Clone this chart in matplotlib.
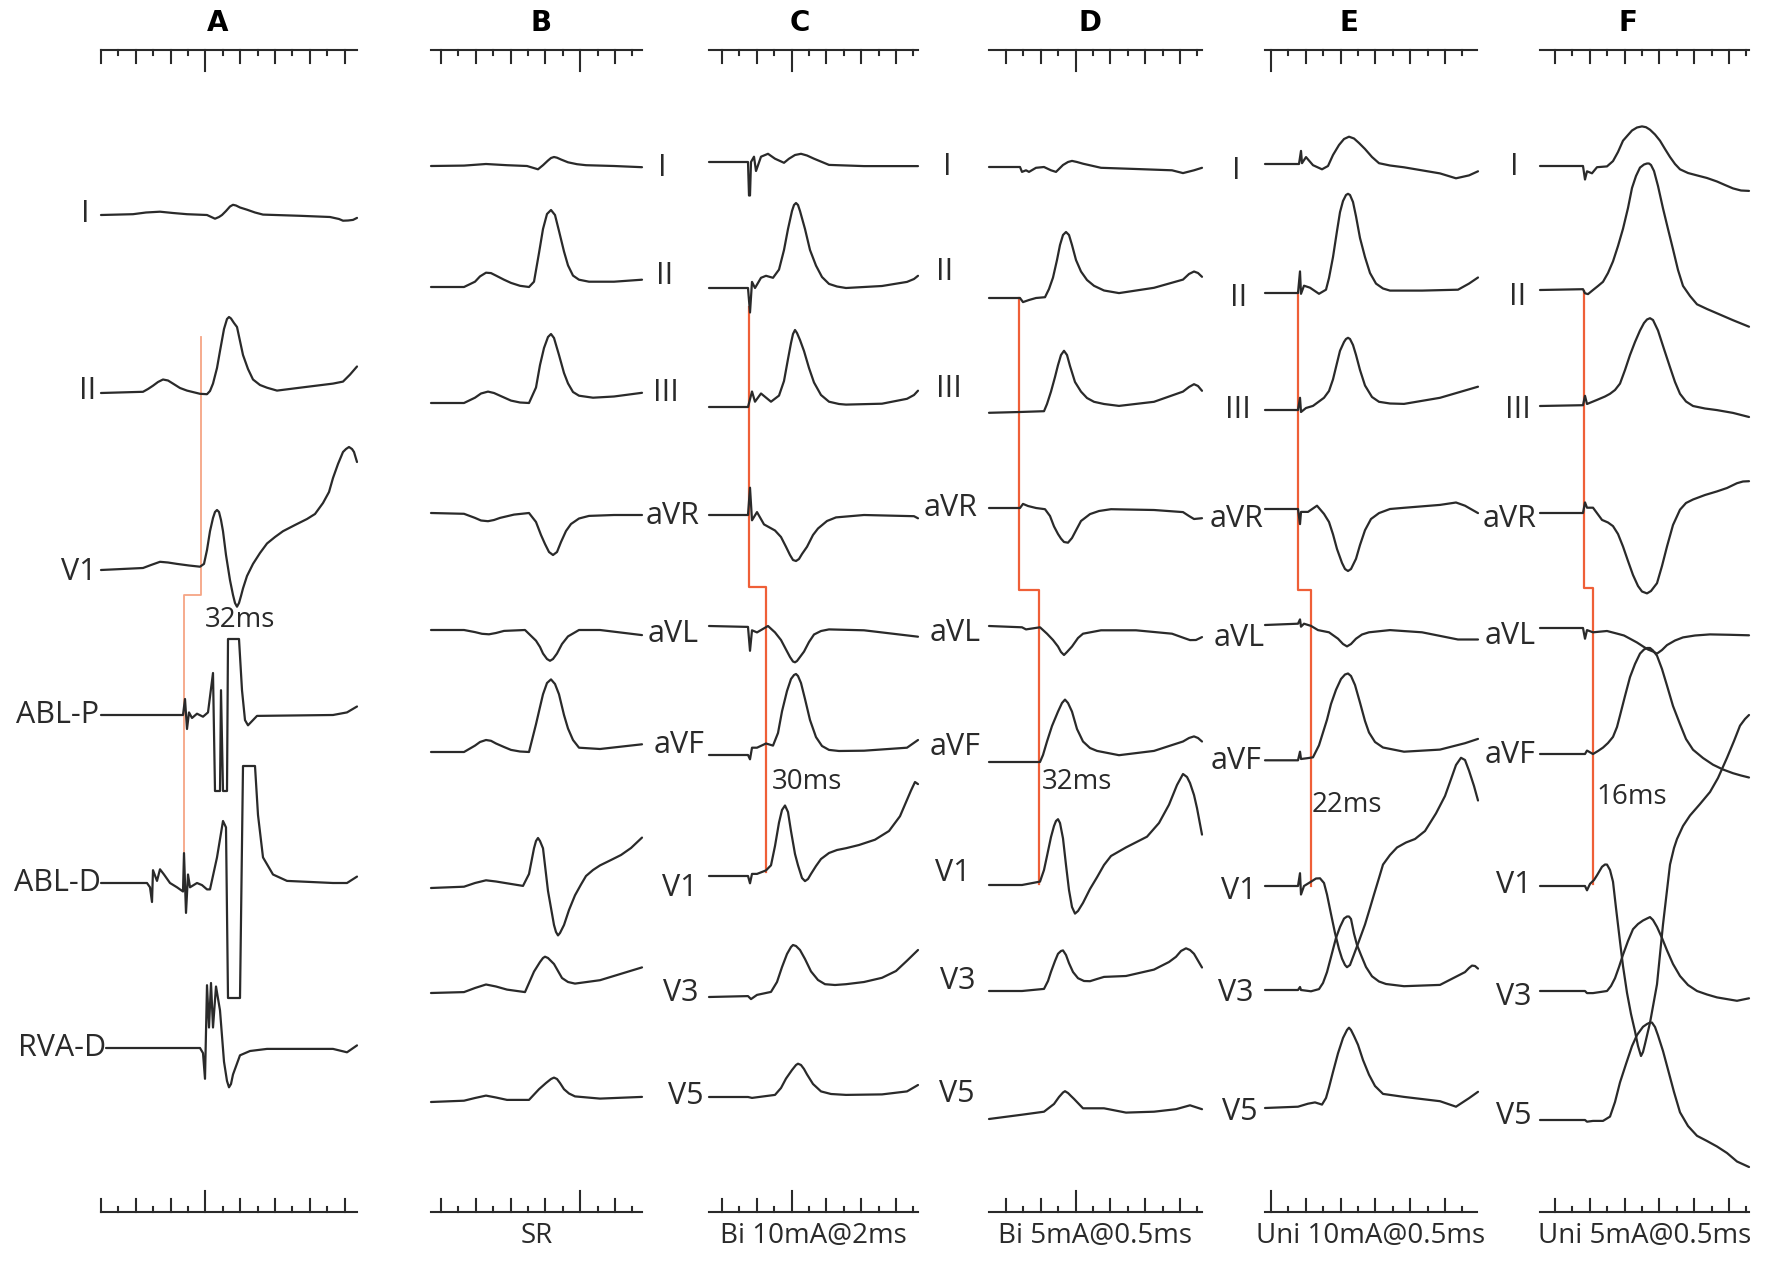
import matplotlib.pyplot as plt

plt.rcParams['font.family'] = ['Open Sans', 'DejaVu Sans']

# ---------------------------------------------------------------------------
# traces: t = time offset from trace start (px at full size), v = amplitude (px, up +)
# ---------------------------------------------------------------------------
A_traces = {
    "I": ([0, 32, 45, 59, 72, 86, 106, 114, 118, 121, 125, 129, 132, 135, 139, 146, 154, 162, 199, 229, 238, 242, 247, 252, 256],
          [0, 0.8, 2.5, 3.3, 2, 0.8, 0, -3.7, -2, 0, 4, 8.5, 10.2, 9.5, 7.5, 5.3, 2.5, 0.4, -0.8, -2, -4, -5.7, -5.5, -4.9, -2.9]),
    "II": ([0, 42, 47, 52, 57, 62, 67, 72, 79, 86, 99, 106, 109, 112, 116, 119, 123, 126, 128, 130, 133, 136, 139, 142, 147, 152, 159, 166, 176, 199, 232, 242, 249, 256],
           [0, 1.2, 4, 7.3, 11, 13.5, 12.5, 9.4, 5, 2.4, -0.8, -1.2, 2, 9.4, 25, 42, 64, 74, 76, 74.5, 70, 66, 52, 38, 24, 13.5, 8, 5.3, 2.4, 5.3, 9.4, 11.4, 18.4, 26.5]),
    "V1": ([0, 42, 50, 59, 67, 76, 88, 99, 103, 106, 109, 112, 114, 116, 118, 120, 122, 125, 129, 132, 134, 136, 138, 140, 142, 146, 152, 159, 166, 174, 182, 194, 206, 214, 222, 228, 232, 237, 242, 245, 248, 251, 253, 256],
           [0, 2, 5, 8.2, 7.5, 6.1, 4.5, 3.3, 6.1, 20, 38.8, 52, 58, 60, 58, 50, 38.8, 15, -10.2, -25, -33, -36.7, -33, -26, -18.4, -6, 6.1, 17, 26.5, 33, 38.8, 45, 51, 56, 67, 78, 92, 106, 118, 121, 123, 121, 118, 108]),
    "ABL-P": ([0, 82, 84, 86, 88, 91, 96, 102, 107, 112, 114, 119, 120, 122, 126, 127, 138, 141, 144, 147, 156, 232, 246, 256],
              [0, 0, 16, -14, 2.6, -3, 1.3, -1.7, 2.6, 42, -76, -76, 24.8, -76, -76, 76, 76, 24.8, -5.1, -10.3, -0.9, 0, 2.6, 8.5]),
    "ABL-D": ([0, 46, 49, 51, 52, 56, 59, 63, 69, 76, 82, 83, 85, 87, 89, 96, 101, 106, 109, 116, 122, 125, 127, 139, 142, 154, 157, 162, 172, 186, 232, 246, 256],
              [0, 0, -4.3, -19, 12.8, 2.1, 13.7, 8.5, 0, -4.3, -8.5, 29.9, -29.9, 8.5, -4.3, 0, -2.1, -6.4, -6.4, 25.6, 62, 55.6, -115, -115, 117, 117, 68, 25.6, 8.5, 2.1, 0, 0, 6.4]),
    "RVA-D": ([5, 99, 102, 104, 106, 108, 110, 112, 115, 119, 123, 126, 128, 130, 132, 139, 149, 166, 232, 246, 256],
              [0, 0, -5.1, -30.8, 62.8, 20.5, 65, 20.5, 61.5, 37.6, -13.7, -33, -39.3, -36, -26.5, -7.3, -3, -0.9, -0.9, -4.3, 2.6]),
}

B_traces = {
    "I": ([0, 33, 55, 76, 96, 107, 112, 117, 120, 123, 126, 130, 137, 146, 155, 183, 211],
          [0, 0.4, 2, 0.8, 0, -3.3, 0.8, 5.5, 8, 9, 8.3, 6.5, 3.7, 1.8, 0.8, 0, -1.2]),
    "II": ([0, 33, 44, 49, 55, 60, 65, 73, 80, 89, 98, 103, 108, 112, 116, 120, 124, 128, 133, 137, 142, 148, 158, 183, 211],
           [0, 0, 5.3, 10.6, 14.3, 13.9, 11.4, 7.3, 4.1, 1.2, 0, 5.3, 34, 58, 73, 77, 72, 56, 35.5, 21.6, 11.4, 7.3, 5.3, 5.3, 7.3]),
    "III": ([0, 33, 44, 50, 57, 63, 69, 80, 89, 98, 105, 109, 113, 117, 120, 123, 128, 133, 137, 142, 148, 162, 183, 211],
            [0, 0, 5.3, 9.5, 11.4, 10, 7.3, 2.4, 0.5, 0, 15.5, 38, 55, 66, 69, 65, 48, 30, 19.6, 11, 7.3, 5.3, 6.5, 10.2]),
    "aVR": ([0, 33, 44, 50, 57, 63, 69, 83, 98, 105, 110, 114, 118, 122, 126, 130, 135, 140, 148, 158, 183, 211],
            [0, -0.8, -4.9, -7.5, -8.2, -7, -4.9, -1.6, 0, -9, -22, -31, -39, -42, -39, -29, -18, -11, -5.5, -2.9, -2, -2]),
    "aVL": ([0, 33, 44, 51, 58, 65, 73, 94, 105, 109, 112, 116, 119, 122, 126, 131, 137, 148, 169, 211],
            [0, 0, -2.1, -3.8, -4.3, -3, -0.9, 0, -10.7, -17, -23.5, -29, -30.8, -29, -23.5, -14, -6.4, 0, 0, -5.1]),
    "aVF": ([0, 33, 44, 49, 55, 60, 65, 73, 80, 89, 98, 105, 109, 112, 116, 120, 124, 128, 133, 137, 142, 148, 169, 211],
            [0, 0, 6.4, 10, 12, 11.2, 8.5, 5, 2.1, 0.5, 0, 27.8, 45, 57.7, 69, 72.6, 68, 57.7, 37, 23.5, 12, 4.3, 3, 7.7]),
    "V1": ([0, 33, 44, 55, 65, 76, 92, 98, 103, 105, 107, 109, 112, 117, 123, 125, 127, 129, 133, 138, 144, 150, 155, 162, 169, 180, 190, 200, 211],
           [0, 1.3, 5, 7.7, 6.5, 4.7, 2.1, 14, 39.7, 47, 50, 47, 39.7, -3, -37, -44, -47.4, -45, -37, -22, -7.3, 3.5, 12, 18, 22.6, 28, 33, 40, 50.4]),
    "V3": ([0, 33, 44, 55, 65, 76, 94, 103, 109, 112, 114, 117, 120, 123, 131, 137, 144, 169, 211],
           [0, 0.9, 5, 8.5, 6.5, 3.4, 0.9, 21.4, 31, 35, 36.3, 35, 32, 29, 15, 11, 9.4, 12.8, 25.6]),
    "V5": ([0, 33, 44, 55, 65, 76, 98, 108, 115, 120, 123, 126, 129, 133, 138, 144, 169, 211],
           [0, 1.3, 4, 6.4, 4.5, 2.1, 2.1, 12.8, 19, 23, 24.4, 23, 19, 12.8, 8.5, 5.6, 3.4, 5.1]),
}

C_traces = {
    "I": ([0, 39, 40, 41, 42, 45, 47, 52, 59, 66, 75, 80, 86, 92, 98, 105, 120, 155, 209],
          [0, 0, -33.5, -33.5, 0, 5.3, -9, 5.3, 8.2, 3.3, -0.8, 3.3, 7, 8.2, 6.5, 3.3, -2.9, -4.1, -4.1]),
    "II": ([0, 39, 41, 43, 46, 52, 57, 64, 70, 75, 79, 83, 85, 87, 89, 91, 96, 101, 107, 113, 120, 128, 137, 173, 198, 205, 209],
           [0, 0, -24.5, 6.1, 0, 10.2, 12.2, 10.2, 18.4, 38, 59, 77, 83, 85, 83, 77, 59, 38, 22.4, 11, 4.1, 1.5, 0, 2, 6.1, 9, 12.2]),
    "III": ([0, 39, 43, 46, 52, 62, 70, 75, 79, 82, 84, 86, 88, 91, 95, 100, 105, 112, 120, 130, 137, 173, 198, 205, 209],
            [0, 0, 15.5, 5.3, 13.5, 5.3, 11.4, 26, 48, 64, 73, 77, 74, 67, 56, 39, 24.5, 12, 5.3, 3, 2.4, 3.3, 8.2, 12, 16.3]),
    "aVR": ([0, 39, 41, 43, 48, 55, 66, 72, 77, 81, 84, 87, 90, 93, 98, 104, 109, 118, 127, 155, 205, 209],
            [0, 0, 27.3, -5.3, 2.9, -9.4, -15.5, -22, -31.8, -40, -45, -46, -44, -39, -31.8, -20, -13.5, -6, -2.4, 0, -1.2, -3.3]),
    "aVL": ([0, 39, 41, 43, 48, 59, 66, 72, 77, 81, 84, 86, 88, 91, 95, 100, 105, 112, 120, 155, 209],
            [0, -0.9, -24.8, -4.3, -6.4, 0, -6.4, -14, -23.5, -31, -35.5, -36.3, -35, -31, -25.6, -16, -8.5, -5, -3.4, -4.3, -10.7]),
    "aVF": ([0, 39, 41, 43, 48, 57, 64, 69, 73, 78, 82, 85, 87, 89, 92, 96, 101, 107, 113, 120, 130, 155, 198, 209],
            [0, 0, -4.3, 7.3, 7.3, 11.5, 9.4, 22, 43.6, 64, 76, 80, 81, 79, 72, 56, 35, 17.9, 9, 5.1, 4, 4.3, 7.3, 15]),
    "V1": ([0, 39, 41, 43, 48, 57, 62, 66, 70, 73, 76, 79, 82, 86, 89, 93, 96, 99, 102, 107, 112, 120, 128, 137, 150, 166, 180, 191, 202, 206, 209],
           [0, 0, -7.3, 2.1, 2.1, 5.6, 10.7, 30, 53.4, 66, 70.5, 64, 44.9, 22, 10.7, -2, -5.1, -3, 2.1, 10, 17, 23, 26, 27.8, 31, 36.3, 45, 59.8, 85.5, 94, 91.9]),
    "V3": ([0, 39, 42, 48, 62, 68, 73, 78, 82, 84, 87, 91, 96, 102, 109, 116, 126, 137, 155, 173, 187, 198, 209],
           [0, 0.9, -2.1, 2.1, 5.1, 15, 29.9, 43, 50, 52, 51, 47, 38, 25.6, 17, 12.8, 12, 12.8, 15, 19.2, 26, 36.3, 47]),
    "V5": ([0, 39, 43, 66, 72, 77, 83, 87, 89, 92, 95, 98, 104, 112, 122, 137, 173, 198, 209],
           [0, 0, -0.9, 2.1, 9, 18.4, 27, 32, 33.3, 32, 28, 22.6, 13, 5.6, 3, 2.1, 2.6, 5.6, 12]),
}

D_traces = {
    "I": ([0, 31, 33, 37, 40, 47, 55, 62, 67, 74, 79, 83, 88, 94, 112, 147, 183, 194, 205, 213],
          [0, 0, -4.9, -3.3, -4.9, -0.8, 0, -3.3, -4.9, 2, 5, 6.1, 5, 3.3, -0.8, -2, -3.3, -6.1, -3.3, -0.8]),
    "II": ([0, 31, 34, 40, 47, 56, 60, 64, 68, 71, 74, 77, 80, 83, 87, 92, 98, 105, 115, 130, 165, 194, 200, 205, 209, 213],
           [0, 0, -4.1, -2, 0, 0.8, 9, 20.4, 38, 53, 63, 66, 63, 53, 38, 26.5, 18, 12.2, 7.5, 4.9, 10.2, 18.4, 24, 26.5, 25, 21.2]),
    "III": ([0, 31, 55, 58, 62, 66, 69, 72, 75, 78, 81, 86, 92, 98, 105, 115, 130, 165, 194, 200, 205, 209, 213],
            [-0.8, 0, 0.8, 8, 20.4, 35, 46.9, 57, 61.2, 57, 46, 30, 20.4, 14, 10.2, 8, 6.1, 10.2, 20.4, 25, 27.8, 26, 21.2]),
    "aVR": ([0, 31, 34, 39, 47, 56, 61, 65, 69, 72, 75, 79, 83, 87, 92, 101, 110, 122, 165, 194, 200, 205, 213],
            [0, 0, 4.1, 2, 0, -1.2, -8, -18.4, -26, -30.6, -34, -34.7, -30, -22.4, -13, -6.1, -3, -1.2, -2, -4.1, -8, -11, -10.2]),
    "aVL": ([0, 33, 37, 51, 58, 64, 69, 72, 75, 78, 83, 89, 94, 112, 147, 183, 195, 201, 207, 213],
            [0, -1.3, -3.4, -1.3, -7.7, -14, -20.5, -26, -29, -26, -20.5, -12, -7.7, -4.3, -4.3, -7.7, -12, -14.1, -14, -11.1]),
    "aVF": ([0, 33, 51, 54, 58, 63, 69, 73, 76, 79, 83, 88, 94, 101, 108, 130, 165, 194, 200, 205, 209, 213],
            [0, 0, 0, 7, 20.5, 36, 50.4, 59, 62.4, 59, 50.4, 33, 20.5, 14, 11.1, 6.8, 11.1, 20.5, 24, 25.6, 24, 20.5]),
    "V1": ([0, 33, 51, 55, 58, 62, 65, 67, 69, 71, 74, 77, 80, 83, 86, 89, 94, 101, 108, 115, 122, 137, 158, 170, 180, 188, 194, 198, 201, 205, 208, 213],
           [0, 0, 3.4, 15, 29, 48, 59, 64, 65.8, 62, 46.6, 20, -5.1, -22, -28.6, -26, -17.9, -4, 7.7, 20, 29, 37.6, 48.3, 62, 80.3, 100, 111, 108, 102, 90, 76.9, 50.4]),
    "V3": ([0, 33, 55, 59, 62, 66, 69, 72, 74, 77, 80, 84, 89, 95, 101, 108, 115, 137, 165, 180, 187, 192, 197, 201, 205, 213],
           [0, 0, 2.1, 10, 19.2, 30, 37.2, 40, 40.6, 36, 27.8, 19, 12.8, 10, 9.8, 12, 14.1, 15, 21.4, 29, 34.2, 40, 42.7, 41, 37.2, 23.5]),
    "V5": ([0, 33, 55, 65, 70, 74, 76, 79, 82, 85, 94, 115, 137, 165, 187, 201, 213],
           [0, 4.3, 7.3, 15, 22, 26.5, 27.8, 26, 23, 20.1, 10.7, 10.7, 6.4, 7.3, 9.8, 13.7, 9.8]),
}

E_traces = {
    "I": ([0, 34, 36, 37, 41, 48, 57, 63, 68, 74, 79, 84, 89, 94, 100, 107, 114, 125, 139, 175, 191, 204, 213],
          [0, 0, 13.1, 0.8, 6.9, -1.2, -5.3, -2, 9, 19, 25, 27.3, 25.5, 21, 15, 7, 0.8, -1.5, -3.3, -9.4, -14.3, -11.4, -7.3]),
    "II": ([0, 33, 35, 36, 39, 45, 54, 61, 64, 68, 72, 75, 78, 81, 83, 85, 88, 91, 95, 100, 105, 111, 118, 125, 157, 193, 204, 213],
           [0, 0, 21.6, -0.8, 7.3, 5.3, -0.8, 3.3, 15, 35.9, 62, 80.8, 92, 98, 99.2, 98, 91, 76.7, 55, 35.9, 20, 9.4, 4.5, 2.4, 2.4, 3.3, 9.4, 15.5]),
    "III": ([0, 33, 35, 36, 41, 48, 59, 64, 68, 72, 75, 79, 81, 83, 85, 88, 91, 95, 100, 107, 114, 125, 139, 175, 213],
            [0, 0, 12.2, -2, 2, 4.1, 12.2, 19, 30.6, 47, 59.2, 68, 71, 72.2, 71, 65, 55.1, 40, 24.5, 13, 8.2, 6.5, 6.1, 12.2, 23.3]),
    "aVR": ([0, 33, 35, 36, 43, 52, 59, 64, 68, 72, 77, 80, 83, 86, 91, 95, 100, 106, 114, 125, 139, 175, 191, 200, 213],
            [0, 0, -15.1, -2.9, -2.9, 3.3, -4.9, -13, -25.3, -40, -53.9, -60, -62, -60, -49.8, -36, -21.2, -10, -4.1, 0, 1.2, 4.1, 6.5, 3.3, -4.1]),
    "aVL": ([0, 33, 35, 36, 39, 46, 53, 64, 73, 78, 82, 86, 91, 97, 104, 125, 157, 193, 213],
            [0, 1.3, 5.6, -1.7, 1.3, -0.9, -5.1, -7.3, -13.7, -19, -21.4, -19, -13.7, -9.5, -7.3, -5.1, -7.3, -14.5, -14.5]),
    "aVF": ([0, 33, 35, 36, 43, 48, 54, 62, 66, 71, 76, 80, 83, 86, 90, 95, 100, 104, 110, 118, 139, 175, 200, 213],
            [-1.3, -1.3, 7.3, 0, 0.9, 1.7, 13.7, 39.3, 55, 69.2, 80, 84.5, 85.5, 83, 74, 56.4, 38, 26.5, 17, 11.5, 7.3, 9.4, 15.8, 20.1]),
    "V1": ([0, 33, 35, 36, 39, 46, 51, 55, 59, 62, 66, 70, 74, 77, 80, 82, 85, 89, 94, 100, 105, 109, 114, 118, 125, 132, 141, 150, 160, 171, 180, 186, 191, 196, 200, 204, 209, 213],
           [0, 0, 12.8, -8.5, 0, 4.3, 7.5, 7.7, 3, -8.5, -28, -47, -63, -72.6, -79, -81.2, -79, -68.4, -55, -38.5, -22, -8.5, 8, 21.4, 31, 38.5, 43.5, 47, 55, 72.6, 90, 106.8, 121, 128.2, 126, 115.4, 100, 85.5]),
    "V3": ([0, 33, 35, 36, 46, 54, 58, 62, 66, 71, 75, 79, 82, 84, 86, 89, 92, 96, 101, 107, 114, 121, 139, 175, 200, 204, 207, 210, 213],
           [0, 0, 3, 0, -1.3, 0.9, 7, 17.9, 33, 52.1, 63, 71.4, 73.5, 73.5, 71, 56.4, 45, 35, 23, 13.7, 8.5, 6, 3.8, 5.1, 17.9, 22, 24.4, 24, 21.4]),
    "V5": ([0, 33, 43, 50, 57, 61, 64, 68, 73, 78, 82, 84, 86, 89, 93, 98, 104, 110, 118, 139, 175, 191, 204, 213],
           [0, 1.3, 4.3, 5.6, 3.4, 10, 20.5, 36, 54.7, 70, 78, 80.3, 78, 72, 63.2, 48, 33.3, 22, 14.1, 11.1, 6.8, 1.3, 9.8, 16.2]),
}

F_traces = {
    "I": ([0, 43, 45, 47, 52, 57, 67, 73, 78, 83, 88, 92, 97, 102, 106, 110, 115, 120, 125, 130, 135, 140, 148, 157, 167, 177, 185, 193, 201, 209],
          [0, 0, -13.5, -5.3, -7.3, -1.2, -0.4, 4.9, 14, 25.3, 31, 35.5, 38.5, 39.6, 38.8, 36.3, 31.5, 25.3, 17, 9, 2, -3.3, -7, -9.4, -12, -15.5, -19, -22.4, -24.5, -24.9]),
    "II": ([0, 43, 45, 48, 53, 58, 63, 68, 73, 78, 83, 88, 92, 96, 100, 104, 107, 109, 111, 114, 118, 123, 128, 133, 138, 143, 150, 157, 167, 177, 193, 209],
           [0, 0.8, -3.3, -4.1, 0, 4, 8.2, 17, 28.6, 44, 61.2, 82, 102, 114, 122.4, 125.5, 126.5, 126.5, 125, 119, 104, 81.6, 61, 40.8, 20, 4.1, -6, -14.3, -19, -23.3, -30.2, -36.7]),
    "III": ([0, 43, 45, 47, 57, 65, 70, 75, 80, 85, 90, 95, 100, 104, 107, 110, 113, 118, 124, 130, 135, 140, 146, 153, 165, 177, 193, 209],
            [0, 0.8, 10.2, 2, 6.1, 9.5, 12.2, 16, 22.4, 36, 51, 64, 75.5, 83, 86.5, 87.8, 86, 75.5, 57, 38.8, 24, 12.2, 4.5, 0, -2.5, -4.1, -6.9, -11]),
    "aVR": ([0, 43, 45, 47, 53, 62, 68, 73, 78, 83, 88, 93, 98, 102, 107, 111, 117, 122, 127, 133, 140, 146, 153, 165, 177, 187, 197, 203, 209],
            [0, 0, 10.6, 5.3, 5.3, -6.9, -9.5, -13.1, -21, -33.5, -48, -62, -73, -78.5, -80.4, -78, -70.2, -53, -33.5, -12, 3.3, 10, 13.5, 18, 21.6, 25, 29.8, 31.5, 31.8]),
    "aVL": ([0, 43, 45, 47, 53, 67, 77, 84, 90, 97, 103, 108, 113, 117, 122, 127, 135, 143, 155, 170, 190, 209],
            [0, 0, -10.7, -2.1, -4.3, -3, -5.6, -7.5, -10.7, -14.5, -18.4, -21.5, -23.5, -25.6, -22, -17.1, -12.5, -9.4, -7.5, -6.4, -6.8, -7.3]),
    "aVF": ([0, 45, 47, 53, 58, 63, 68, 73, 77, 80, 85, 90, 95, 100, 104, 107, 110, 113, 117, 122, 127, 133, 140, 146, 153, 163, 173, 183, 193, 201, 209],
            [0, 0, 3.4, 0, 3, 6.4, 11, 17.1, 27, 38.5, 58, 76.9, 90, 100.4, 104.5, 106, 106, 103.5, 98.3, 85, 68.4, 48, 29.9, 15, 4.3, -4, -10.7, -15.5, -19.2, -21.5, -23.5]),
    "V1": ([0, 45, 47, 50, 54, 57, 62, 65, 67, 70, 73, 76, 80, 83, 87, 91, 95, 98, 101, 103, 105, 110, 117, 123, 130, 134, 137, 143, 150, 160, 170, 178, 187, 194, 200, 205, 209],
           [0, 0, -4.3, 2.1, 6, 10.7, 19.2, 21.5, 21.4, 16, 4.3, -22, -55.6, -80, -106.8, -128, -145.3, -160, -170, -166, -158, -136.8, -98.3, -38.5, 21.4, 38, 47, 60, 70.5, 82, 94, 108, 128.2, 145, 160.3, 167, 171]),
    "V3": ([0, 45, 47, 53, 67, 71, 75, 79, 83, 88, 93, 98, 103, 107, 110, 113, 117, 122, 127, 133, 140, 148, 157, 167, 177, 197, 209],
           [0, 0, -2.1, -2.1, 0, 5, 12.8, 24, 36.3, 50, 61.8, 67, 70.5, 72.5, 73.9, 71, 64.1, 53, 40.6, 27, 15, 6, 0, -3.5, -6.4, -9.8, -7.3]),
    "V5": ([0, 45, 47, 53, 63, 70, 75, 80, 86, 92, 97, 103, 107, 110, 112, 115, 118, 123, 128, 134, 140, 148, 157, 167, 177, 187, 197, 209],
           [0, 0, -1.7, -0.9, -0.9, 3.4, 18, 37.6, 56, 73.9, 85, 93.2, 96, 97.4, 97.4, 93, 84.6, 69, 50.4, 28, 7.7, -6, -15.8, -21, -26.5, -33, -41.5, -47]),
}

titles = ["A", "B", "C", "D", "E", "F"]
conditions = ["", "SR", "Bi 10mA@2ms", "Bi 5mA@0.5ms", "Uni 10mA@0.5ms", "Uni 5mA@0.5ms"]
delays = ["32ms", "", "30ms", "32ms", "22ms", "16ms"]
twelve = ["I", "II", "III", "aVR", "aVL", "aVF", "V1", "V3", "V5"]

# ---------------------------------------------------------------------------
# layout (figure px, y down)
# ---------------------------------------------------------------------------
W, H = 1772, 1270
trace_x0 = [101, 431, 709, 989, 1265, 1540]
baselines = [
    {"I": 215, "II": 393, "V1": 570, "ABL-P": 715, "ABL-D": 883, "RVA-D": 1048},
    {"I": 166, "II": 287, "III": 403, "aVR": 513, "aVL": 630, "aVF": 752, "V1": 888, "V3": 993, "V5": 1102},
    {"I": 162, "II": 288, "III": 407, "aVR": 515, "aVL": 626, "aVF": 755, "V1": 876, "V3": 997, "V5": 1097},
    {"I": 167, "II": 298, "III": 412, "aVR": 508, "aVL": 626, "aVF": 762, "V1": 885, "V3": 991, "V5": 1119},
    {"I": 164, "II": 293, "III": 410, "aVR": 509, "aVL": 625, "aVF": 759, "V1": 886, "V3": 990, "V5": 1108},
    {"I": 166, "II": 290, "III": 406, "aVR": 513, "aVL": 628, "aVF": 754, "V1": 886, "V3": 991, "V5": 1120},
]
title_x = [218, 541, 800, 1090, 1349, 1628]
ruler_span = [(101, 357), (431, 642), (709, 918), (989, 1202), (1265, 1477), (1540, 1749)]
tick_start = [101, 441, 722, 1006, 1271, 1555]
tick_count = [15, 12, 12, 12, 12, 12]
tall_tick = [6, 8, 4, 4, 0, None]
tick_step = 17.4
ruler_top, ruler_bottom = 50, 1212
delay_xy = [(240, 620), None, (807, 782), (1077, 782), (1347, 805), (1632, 797)]
# activation marker: x of stimulus, x of onset, y top, y step, y bottom
markers = [(201, 184, 337, 595, 852), None, (749, 766, 307, 587, 872),
           (1019, 1039, 298, 590, 884), (1298, 1311, 293, 590, 886),
           (1584, 1593, 291, 588, 884)]
marker_colors = ["#f6a585", None, "#ef5f37", "#ef5f37", "#ef5f37", "#ef5f37"]

# lead label centres
labels_A = {"I": (85, 214), "II": (88, 391), "V1": (79, 572),
            "ABL-P": (58, 715), "ABL-D": (57, 883), "RVA-D": (62, 1048)}
label_cols = [
    [(662, 168), (665, 276), (666, 393), (673, 516), (673, 634), (679, 745), (680, 888), (681, 993), (686, 1096)],
    [(947, 167), (945, 272), (949, 389), (951, 508), (955, 633), (955, 747), (953, 873), (958, 981), (957, 1094)],
    [(1236, 171), (1239, 298), (1238, 410), (1237, 519), (1239, 638), (1236, 761), (1239, 891), (1236, 993), (1240, 1112)],
    [(1514, 167), (1518, 297), (1518, 410), (1510, 519), (1510, 636), (1510, 755), (1514, 885), (1514, 997), (1514, 1116)],
]

ink = "#2a2a2a"
fig = plt.figure(figsize=(W / 100, H / 100), dpi=100)
ax = fig.add_axes([0, 0, 1, 1])
ax.set_xlim(0, W)
ax.set_ylim(H, 0)
ax.axis("off")

panels = [A_traces, B_traces, C_traces, D_traces, E_traces, F_traces]
for i, traces in enumerate(panels):
    x0 = trace_x0[i]
    for lead, (t, v) in traces.items():
        base = baselines[i][lead]
        ax.plot([x0 + a for a in t], [base - b for b in v], color=ink, lw=1.6,
                solid_joinstyle="round", solid_capstyle="round")

    # rulers
    xa, xb = ruler_span[i]
    for yl, sgn in ((ruler_top, 1), (ruler_bottom, -1)):
        ax.plot([xa, xb], [yl, yl], color=ink, lw=1.5)
        for k in range(tick_count[i]):
            xt = tick_start[i] + k * tick_step
            if k == tall_tick[i]:
                ln = 21
            elif k % 2 == 0:
                ln = 13
            else:
                ln = 5
            ax.plot([xt, xt], [yl, yl + sgn * ln], color=ink, lw=1.5)

    ax.text(title_x[i], 23, titles[i], ha="center", va="center", fontsize=20,
            fontweight="bold", family="DejaVu Sans", color="black")
    if conditions[i]:
        ax.text((xa + xb) / 2, 1236, conditions[i], ha="center", va="center",
                fontsize=20, color=ink)
    if markers[i]:
        xs, xo, yt, ys, yb = markers[i]
        ax.plot([xs, xs, xo, xo], [yt, ys, ys, yb], color=marker_colors[i],
                lw=1.6 if i else 1.3, zorder=1)
    if delay_xy[i]:
        ax.text(*delay_xy[i], delays[i], ha="center", va="center", fontsize=20, color=ink)

for lead, (lx, ly) in labels_A.items():
    ax.text(lx, ly, lead, ha="center", va="center", fontsize=22, color=ink)
for col in label_cols:
    for lead, (lx, ly) in zip(twelve, col):
        ax.text(lx, ly, lead, ha="center", va="center", fontsize=22, color=ink)

fig.savefig("out.png", dpi=100, facecolor="white")
